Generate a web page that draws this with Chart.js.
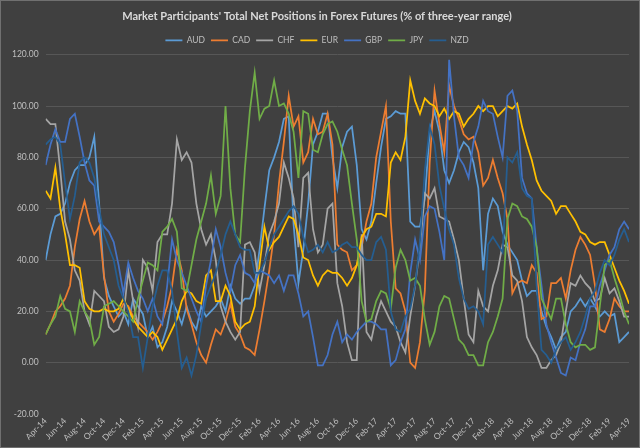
<!DOCTYPE html>
<html>
<head>
<meta charset="utf-8">
<style>
  html, body { margin: 0; padding: 0; background: #404040; }
  #wrap { width: 640px; height: 448px; box-sizing: border-box; border: 1px solid #707070; background: #404040; }
  canvas { display: block; }
</style>
<script src="https://cdn.jsdelivr.net/npm/chart.js@4.4.1/dist/chart.umd.min.js"></script>
</head>
<body>
<div id="wrap"><canvas id="mainChart" width="638" height="446"></canvas></div>
<script>
// half-month steps from Apr-14 (0) to Apr-19 (60)
const tickLabels = ['Apr-14','Jun-14','Aug-14','Oct-14','Dec-14','Feb-15','Apr-15','Jun-15','Aug-15','Oct-15','Dec-15',
  'Feb-16','Apr-16','Jun-16','Aug-16','Oct-16','Dec-16','Feb-17','Apr-17','Jun-17','Aug-17','Oct-17','Dec-17',
  'Feb-18','Apr-18','Jun-18','Aug-18','Oct-18','Dec-18','Feb-19','Apr-19'];
const months = Array.from({ length: 121 }, (_, i) => i / 2);

const aud = [40,50,57,58,62,70,75,77,77,80, 88,62,33,26,22,18,20,15,25,22, 19,10,14,6,8,14,24,20,15,22,
  16,13,22,18,20,22,25,20,30,25, 23,25,25,30,44,60,75,80,86,95, 96,54,31,44,62,85,90,97,97,80,
  68,84,90,92,77,52,48,55,70,84, 95,96,98,97,97,55,53,53,64,90, 98,90,75,70,75,82,86,84,78,68,
  36,58,64,61,51,46,43,40,32,26, 28,28,20,14,10,5,10,12,20,22, 25,22,25,22,18,20,18,19,8,10,12];
const cad = [11,15,20,22,25,30,45,56,63,55, 50,53,34,20,16,19,23,22,18,16, 14,12,9,12,16,22,30,44,36,21,
  15,8,3,0,7,13,11,16,23,14, 11,6,5,3,13,24,36,50,70,86, 104,92,96,78,82,95,89,90,97,85,
  46,44,43,36,38,45,55,62,80,90, 100,55,29,27,20,0,-2,8,28,78, 106,93,82,108,100,95,89,87,88,82,
  69,72,79,72,66,56,27,31,32,31, 38,35,17,18,31,31,33,25,36,44, 49,46,42,30,13,12,17,25,22,20,20];
const chf = [95,93,93,75,55,48,36,32,20,15, 28,26,24,14,12,13,18,36,24,14, 40,37,28,47,50,50,62,87,79,82,
  78,62,52,46,50,40,22,16,12,9, 12,46,47,43,28,38,50,55,62,78, 72,64,45,72,74,52,43,46,60,62,
  31,22,8,1,1,50,12,9,18,24, 20,16,14,8,4,18,30,45,66,64, 68,57,56,55,48,40,25,11,8,28,
  22,20,30,36,46,45,34,32,24,10, 6,3,-2,-2,1,3,8,20,31,30, 34,31,29,24,25,33,27,29,24,18,18];
const eur = [67,64,76,60,50,38,38,37,24,21, 20,20,21,20,20,21,25,21,17,14, 12,10,12,10,5,9,13,17,24,28,
  27,24,23,34,36,24,24,30,26,16, 13,15,16,22,38,53,44,47,49,53, 57,56,50,41,40,34,30,34,36,35,
  35,33,30,33,38,49,52,53,58,58, 57,78,82,79,88,110,102,97,103,101, 100,96,99,95,98,97,92,95,97,100,
  98,100,100,96,98,100,99,101,92,85, 79,71,67,65,63,58,61,61,58,55, 51,50,47,46,47,47,42,37,32,28,23];
const gbp = [77,85,91,86,86,95,97,88,78,71, 69,55,53,51,47,38,27,39,33,28, 25,20,25,18,15,30,48,40,35,30,
  25,20,16,30,40,52,45,35,28,38, 42,35,34,31,36,35,34,31,34,28, 34,34,27,18,20,10,-1,-1,3,11,
  16,8,11,9,12,14,16,16,15,13, 13,-1,1,8,13,35,48,40,57,61, 60,51,40,118,96,80,77,72,86,92,
  102,98,97,88,80,104,106,98,72,66, 64,45,30,15,8,2,-4,-5,2,1, 8,13,22,22,30,36,42,45,52,55,52];
const jpy = [11,15,18,26,21,20,12,24,20,17, 7,10,22,23,24,22,20,18,16,25, 32,39,38,36,51,53,56,51,29,28,
  38,48,55,62,73,58,65,100,68,50, 47,76,98,113,95,99,100,110,100,101, 97,90,72,98,97,83,82,89,93,94,
  90,83,77,62,48,24,16,17,24,28, 27,21,37,44,40,32,33,30,17,7, 12,22,26,25,17,9,7,3,3,-1,
  -1,8,12,18,25,56,62,61,57,56, 53,45,25,21,17,25,25,15,8,6, 7,7,5,6,22,38,40,33,27,20,15];
const nzd = [85,87,88,85,70,56,65,78,80,78, 72,60,50,45,40,30,25,20,10,10, -2,10,22,30,36,36,28,12,-2,2,
  -5,3,15,25,30,35,42,50,55,50, 45,44,44,35,35,39,45,50,53,56, 59,61,58,49,43,44,46,43,47,43,
  44,46,47,45,45,42,40,40,47,49, 44,20,13,12,18,21,30,47,75,92, 85,69,60,52,46,33,25,21,22,20,
  15,46,49,46,43,80,78,82,68,65, 64,30,5,3,0,5,8,10,5,8, 12,18,25,28,35,40,38,42,48,52,47];

const seriesNames = ['AUD', 'CAD', 'CHF', 'EUR', 'GBP', 'JPY', 'NZD'];
const seriesValues = [aud, cad, chf, eur, gbp, jpy, nzd];
const seriesColors = ['#5B9BD5', '#ED7D31', '#A5A5A5', '#FFC000', '#4472C4', '#70AD47', '#255E91'];

const ctx = document.getElementById('mainChart');
new Chart(ctx, {
  type: 'line',
  data: {
    datasets: seriesNames.map((name, i) => ({
      label: name,
      data: seriesValues[i].map((v, j) => ({ x: months[j], y: v })),
      borderColor: seriesColors[i],
      backgroundColor: seriesColors[i],
      borderWidth: 1.75,
      pointRadius: 0,
      pointStyle: 'line',
      tension: 0,
      order: seriesNames.length - i,
    })),
  },
  options: {
    responsive: false,
    animation: false,
    layout: { padding: { left: 4, right: 10, top: 3, bottom: 2 } },
    plugins: {
      title: {
        display: true,
        text: "Market Participants' Total Net Positions in Forex Futures (% of three-year range)",
        color: '#d9d9d9',
        font: { family: 'Lato', size: 11, weight: 'bold' },
        padding: { top: 6, bottom: 7 },
      },
      legend: {
        labels: {
          color: '#bfbfbf',
          font: { family: 'Lato', size: 8.5 },
          usePointStyle: true,
          pointStyleWidth: 17,
          padding: 6,
          sort: (a, b) => a.datasetIndex - b.datasetIndex,
        },
      },
      tooltip: { enabled: false },
    },
    scales: {
      x: {
        type: 'linear',
        min: 0,
        max: 60,
        grid: { display: false, drawTicks: false },
        border: { display: false },
        ticks: {
          stepSize: 2,
          autoSkip: false,
          minRotation: 45,
          maxRotation: 45,
          padding: 2,
          color: '#bfbfbf',
          font: { family: 'Lato', size: 8.5 },
          callback: (v) => tickLabels[v / 2],
        },
      },
      y: {
        min: -20,
        max: 120,
        border: { display: false },
        grid: { color: (c) => (c.tick && c.tick.value === -20 ? 'rgba(0,0,0,0)' : '#575757'), lineWidth: 1, drawTicks: false },
        ticks: {
          stepSize: 20,
          padding: 7,
          color: '#bfbfbf',
          font: { family: 'Lato', size: 8.5 },
          callback: (v) => v.toFixed(2),
        },
      },
    },
  },
});
</script>
</body>
</html>
